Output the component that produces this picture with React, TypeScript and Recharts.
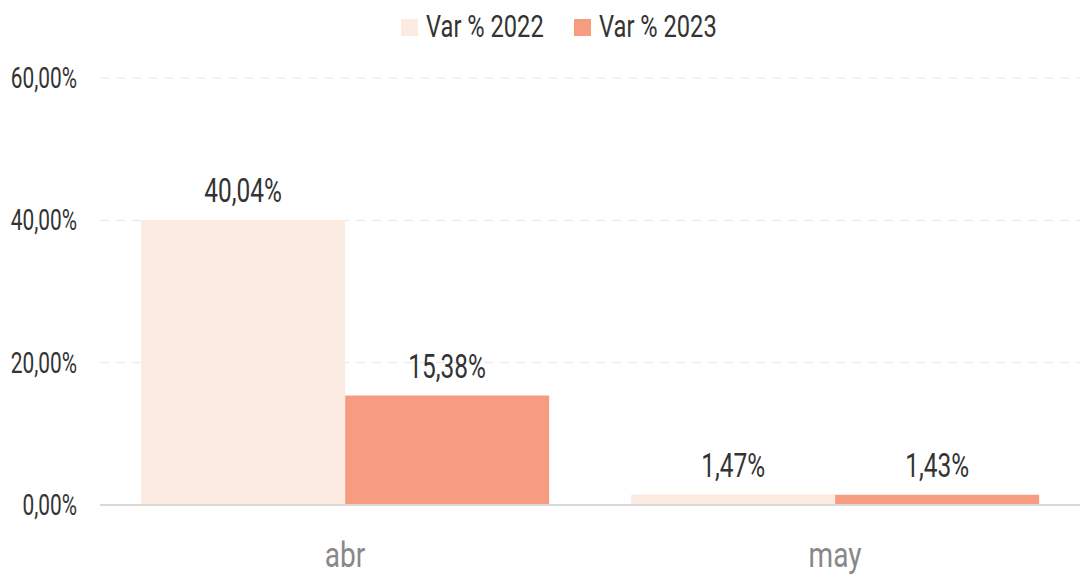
import { BarChart, Bar, XAxis, YAxis, CartesianGrid, LabelList } from 'recharts'

const months = ['abr', 'may']
const var2022 = [0.4004, 0.0147]
const var2023 = [0.1538, 0.0143]
const yTicks = [0, 0.2, 0.4, 0.6]
const seriesNames = ['Var % 2022', 'Var % 2023']

const FONT = 'Roboto, "DejaVu Sans", sans-serif'
const C2022 = '#FCEBE1'
const C2023 = '#F79C80'
const SQUEEZE = 0.72

const data = months.map((m, i) => ({ month: m, v2022: var2022[i], v2023: var2023[i] }))

const pct = (v: number) => (v * 100).toFixed(2).replace('.', ',') + '%'

// condensed text: the reference uses a very narrow face, so squeeze a regular one
function Narrow({ x, y, anchor, size, fill, sx = SQUEEZE, children }: any) {
  return (
    <text
      transform={`translate(${x},${y}) scale(${sx},1)`}
      textAnchor={anchor}
      fontFamily={FONT}
      fontSize={size}
      fill={fill}
    >
      {children}
    </text>
  )
}

function YTick({ x, y, payload }: any) {
  return <Narrow x={x} y={y + 10} anchor="end" size={29} fill="#333">{pct(payload.value)}</Narrow>
}

function XTick({ x, y, payload }: any) {
  return <Narrow x={x} y={y + 54} anchor="middle" size={36} fill="#888" sx={0.78}>{payload.value}</Narrow>
}

function BarLabel({ x, y, width, value }: any) {
  return <Narrow x={x + width / 2} y={y - 18} anchor="middle" size={34} fill="#333">{pct(Number(value))}</Narrow>
}

function LegendRow() {
  const colors = [C2022, C2023]
  const starts = [401, 574]
  return (
    <svg width={1080} height={50} style={{ position: 'absolute', left: 0, top: 0 }}>
      {seriesNames.map((n, i) => (
        <g key={n}>
          <rect x={starts[i]} y={19} width={17} height={17} fill={colors[i]} />
          <Narrow x={starts[i] + 25} y={37} anchor="start" size={32} fill="#333" sx={0.74}>{n}</Narrow>
        </g>
      ))}
    </svg>
  )
}

export default function App() {
  return (
    <div style={{ position: 'absolute', left: 0, top: 0, width: 1080, height: 577, background: '#fff' }}>
      <BarChart
        width={1080}
        height={577}
        data={data}
        margin={{ top: 78, right: 0, bottom: 0, left: 0 }}
        barCategoryGap="8.4%"
        barGap={0}
      >
        <CartesianGrid vertical={false} stroke="#e6e6e6" strokeDasharray="9 7" />
        <XAxis
          dataKey="month"
          height={72}
          axisLine={{ stroke: '#d9d9d9', strokeWidth: 2 }}
          tickLine={false}
          tick={<XTick />}
        />
        <YAxis
          width={100}
          domain={[0, 0.6]}
          ticks={yTicks}
          axisLine={false}
          tickLine={false}
          tick={<YTick />}
          tickMargin={17}
        />
        <Bar dataKey="v2022" name={seriesNames[0]} fill={C2022} isAnimationActive={false}>
          <LabelList dataKey="v2022" content={<BarLabel />} />
        </Bar>
        <Bar dataKey="v2023" name={seriesNames[1]} fill={C2023} isAnimationActive={false}>
          <LabelList dataKey="v2023" content={<BarLabel />} />
        </Bar>
      </BarChart>
      <LegendRow />
    </div>
  )
}
